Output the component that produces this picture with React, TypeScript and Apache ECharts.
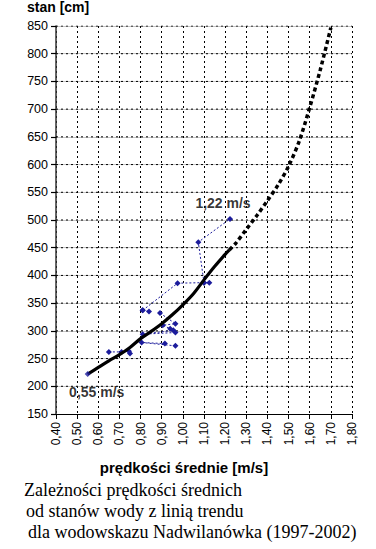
import React, { useEffect, useRef } from "react";
import * as echarts from "echarts";

// axis ranges
const xMin = 0.4;
const xMax = 1.8;
const xStep = 0.1;
const yMin = 150;
const yMax = 850;
const yStep = 50;

// horizontal grid values
const yGrid = [200, 250, 300, 350, 400, 450, 500, 550, 600, 650, 700, 750, 800, 850];

// trend line
const trendSolid: number[][] = [
  [0.55, 222], [0.6, 234], [0.65, 246], [0.7, 257], [0.75, 270], [0.8, 286],
  [0.85, 299], [0.9, 313], [0.95, 329], [1.0, 347], [1.05, 367], [1.1, 392],
  [1.15, 416], [1.2, 438], [1.22, 446],
];
const trendDotted: number[][] = [
  [1.22, 446], [1.25, 458], [1.3, 483], [1.35, 508], [1.4, 535], [1.45, 563],
  [1.5, 597], [1.55, 642], [1.6, 703], [1.65, 771], [1.7, 847],
];

// measured points (blue), grouped into the dashed links seen in the picture
const ptStart: number[][] = [[0.55, 222]];
const segB: number[][] = [[0.65, 262], [0.71, 262], [0.745, 263], [0.75, 259]];
const segC: number[][] = [[0.965, 273], [0.805, 279], [0.915, 277]];
const segD: number[][] = [[0.965, 297], [0.81, 294], [0.955, 301]];
const segE: number[][] = [[0.81, 337], [0.84, 335]];
const segF: number[][] = [[0.892, 332], [0.965, 313], [0.905, 310], [0.94, 304]];
const segG: number[][] = [[0.81, 337], [0.975, 386], [1.1, 387], [1.125, 387]];
const segH: number[][] = [[1.1, 387], [1.073, 460], [1.223, 502]];

const labelPoints = [
  { value: [1.223, 502], text: "1,22 m/s", offset: [-7, -16] },
  { value: [0.55, 222], text: "0,55 m/s", offset: [9, 18] },
];

const yTitle = "stan [cm]";
const xTitle = "prędkości średnie [m/s]";
const caption = [
  "Zależności prędkości średnich",
  "od stanów wody z linią trendu",
  "dla wodowskazu Nadwilanówka (1997-2002)",
];

const BLUE = "#1c1c9c";
const SANS = "'Liberation Sans', Arial, sans-serif";
const SERIF = "'Liberation Serif', 'Times New Roman', serif";

export default function App() {
  const ref = useRef<HTMLDivElement>(null);
  useEffect(() => {
    if (!ref.current) return;
    const chart = echarts.init(ref.current, undefined, { renderer: "svg" });
    const blueSeg = (data: number[][]) => ({
      type: "line",
      data,
      symbol: "diamond",
      symbolSize: 6,
      itemStyle: { color: BLUE },
      lineStyle: { color: BLUE, width: 1, type: [2, 2] },
      z: 3,
    });
    const hGridSeries = yGrid.map((v) => ({
      type: "line",
      data: [[xMin, v], [xMax, v]],
      showSymbol: false,
      silent: true,
      lineStyle: { color: "#000", width: 1, type: [2, 3], cap: "butt" },
      z: 1,
    }));
    chart.setOption({
      animation: false,
      grid: { left: 56, right: 24, top: 26, bottom: 135, containLabel: false },
      xAxis: {
        type: "value",
        min: xMin,
        max: xMax,
        interval: xStep,
        axisLine: { show: true, lineStyle: { color: "#000", width: 1 } },
        axisTick: { show: true, inside: false, length: 5, lineStyle: { color: "#000", width: 1 } },
        axisLabel: {
          rotate: 90,
          margin: 8,
          color: "#000",
          fontFamily: SANS,
          fontSize: 12,
          formatter: (v: number) => v.toFixed(2).replace(".", ","),
        },
        splitLine: {
          show: true,
          lineStyle: { color: "#000", width: 1, type: [2, 3], cap: "butt" },
        },
      },
      yAxis: {
        type: "value",
        min: yMin,
        max: yMax,
        interval: yStep,
        axisLine: { show: true, lineStyle: { color: "#333", width: 1.5 } },
        axisTick: { show: true, inside: false, length: 5, lineStyle: { color: "#000", width: 1.2 } },
        axisLabel: { margin: 8, color: "#000", fontFamily: SANS, fontSize: 12.5 },
        splitLine: {
          show: true,
          lineStyle: { color: "#c4c4c4", width: 1, type: "solid" },
        },
      },
      series: [
        ...hGridSeries,
        {
          type: "line",
          data: trendSolid,
          smooth: 0.3,
          showSymbol: false,
          lineStyle: { color: "#000", width: 3.2 },
          z: 4,
        },
        {
          type: "line",
          data: trendDotted,
          smooth: 0.3,
          showSymbol: false,
          lineStyle: { color: "#000", width: 3.5, type: [4, 3] },
          z: 4,
        },
        {
          type: "scatter",
          data: ptStart,
          symbol: "diamond",
          symbolSize: 6,
          itemStyle: { color: BLUE },
          z: 5,
        },
        blueSeg(segB),
        blueSeg(segC),
        blueSeg(segD),
        blueSeg(segE),
        blueSeg(segF),
        blueSeg(segG),
        blueSeg(segH),
        {
          type: "scatter",
          symbolSize: 0,
          data: labelPoints.map((p) => ({
            value: p.value,
            label: {
              show: true,
              formatter: p.text,
              position: "inside",
              offset: p.offset,
              color: "#000",
              fontFamily: SANS,
              fontWeight: "bold",
              fontSize: 14,
            },
          })),
          z: 6,
        },
      ],
      graphic: [
        {
          type: "text",
          left: 27,
          top: 0,
          style: { text: yTitle, font: `bold 14px ${SANS}`, fill: "#000" },
        },
        {
          type: "text",
          x: 184,
          y: 467,
          style: {
            text: xTitle,
            font: `bold 15px ${SANS}`,
            fill: "#000",
            align: "center",
            verticalAlign: "middle",
          },
        },
        ...caption.map((t, i) => ({
          type: "text",
          x: 24 + i * 2,
          y: 490 + i * 21,
          style: {
            text: t,
            font: `18px ${SERIF}`,
            fill: "#000",
            verticalAlign: "middle",
          },
        })),
      ],
    });
    return () => chart.dispose();
  }, []);
  return (
    <div
      ref={ref}
      style={{ position: "fixed", left: 0, top: 0, width: 376, height: 549, background: "#fff" }}
    />
  );
}
